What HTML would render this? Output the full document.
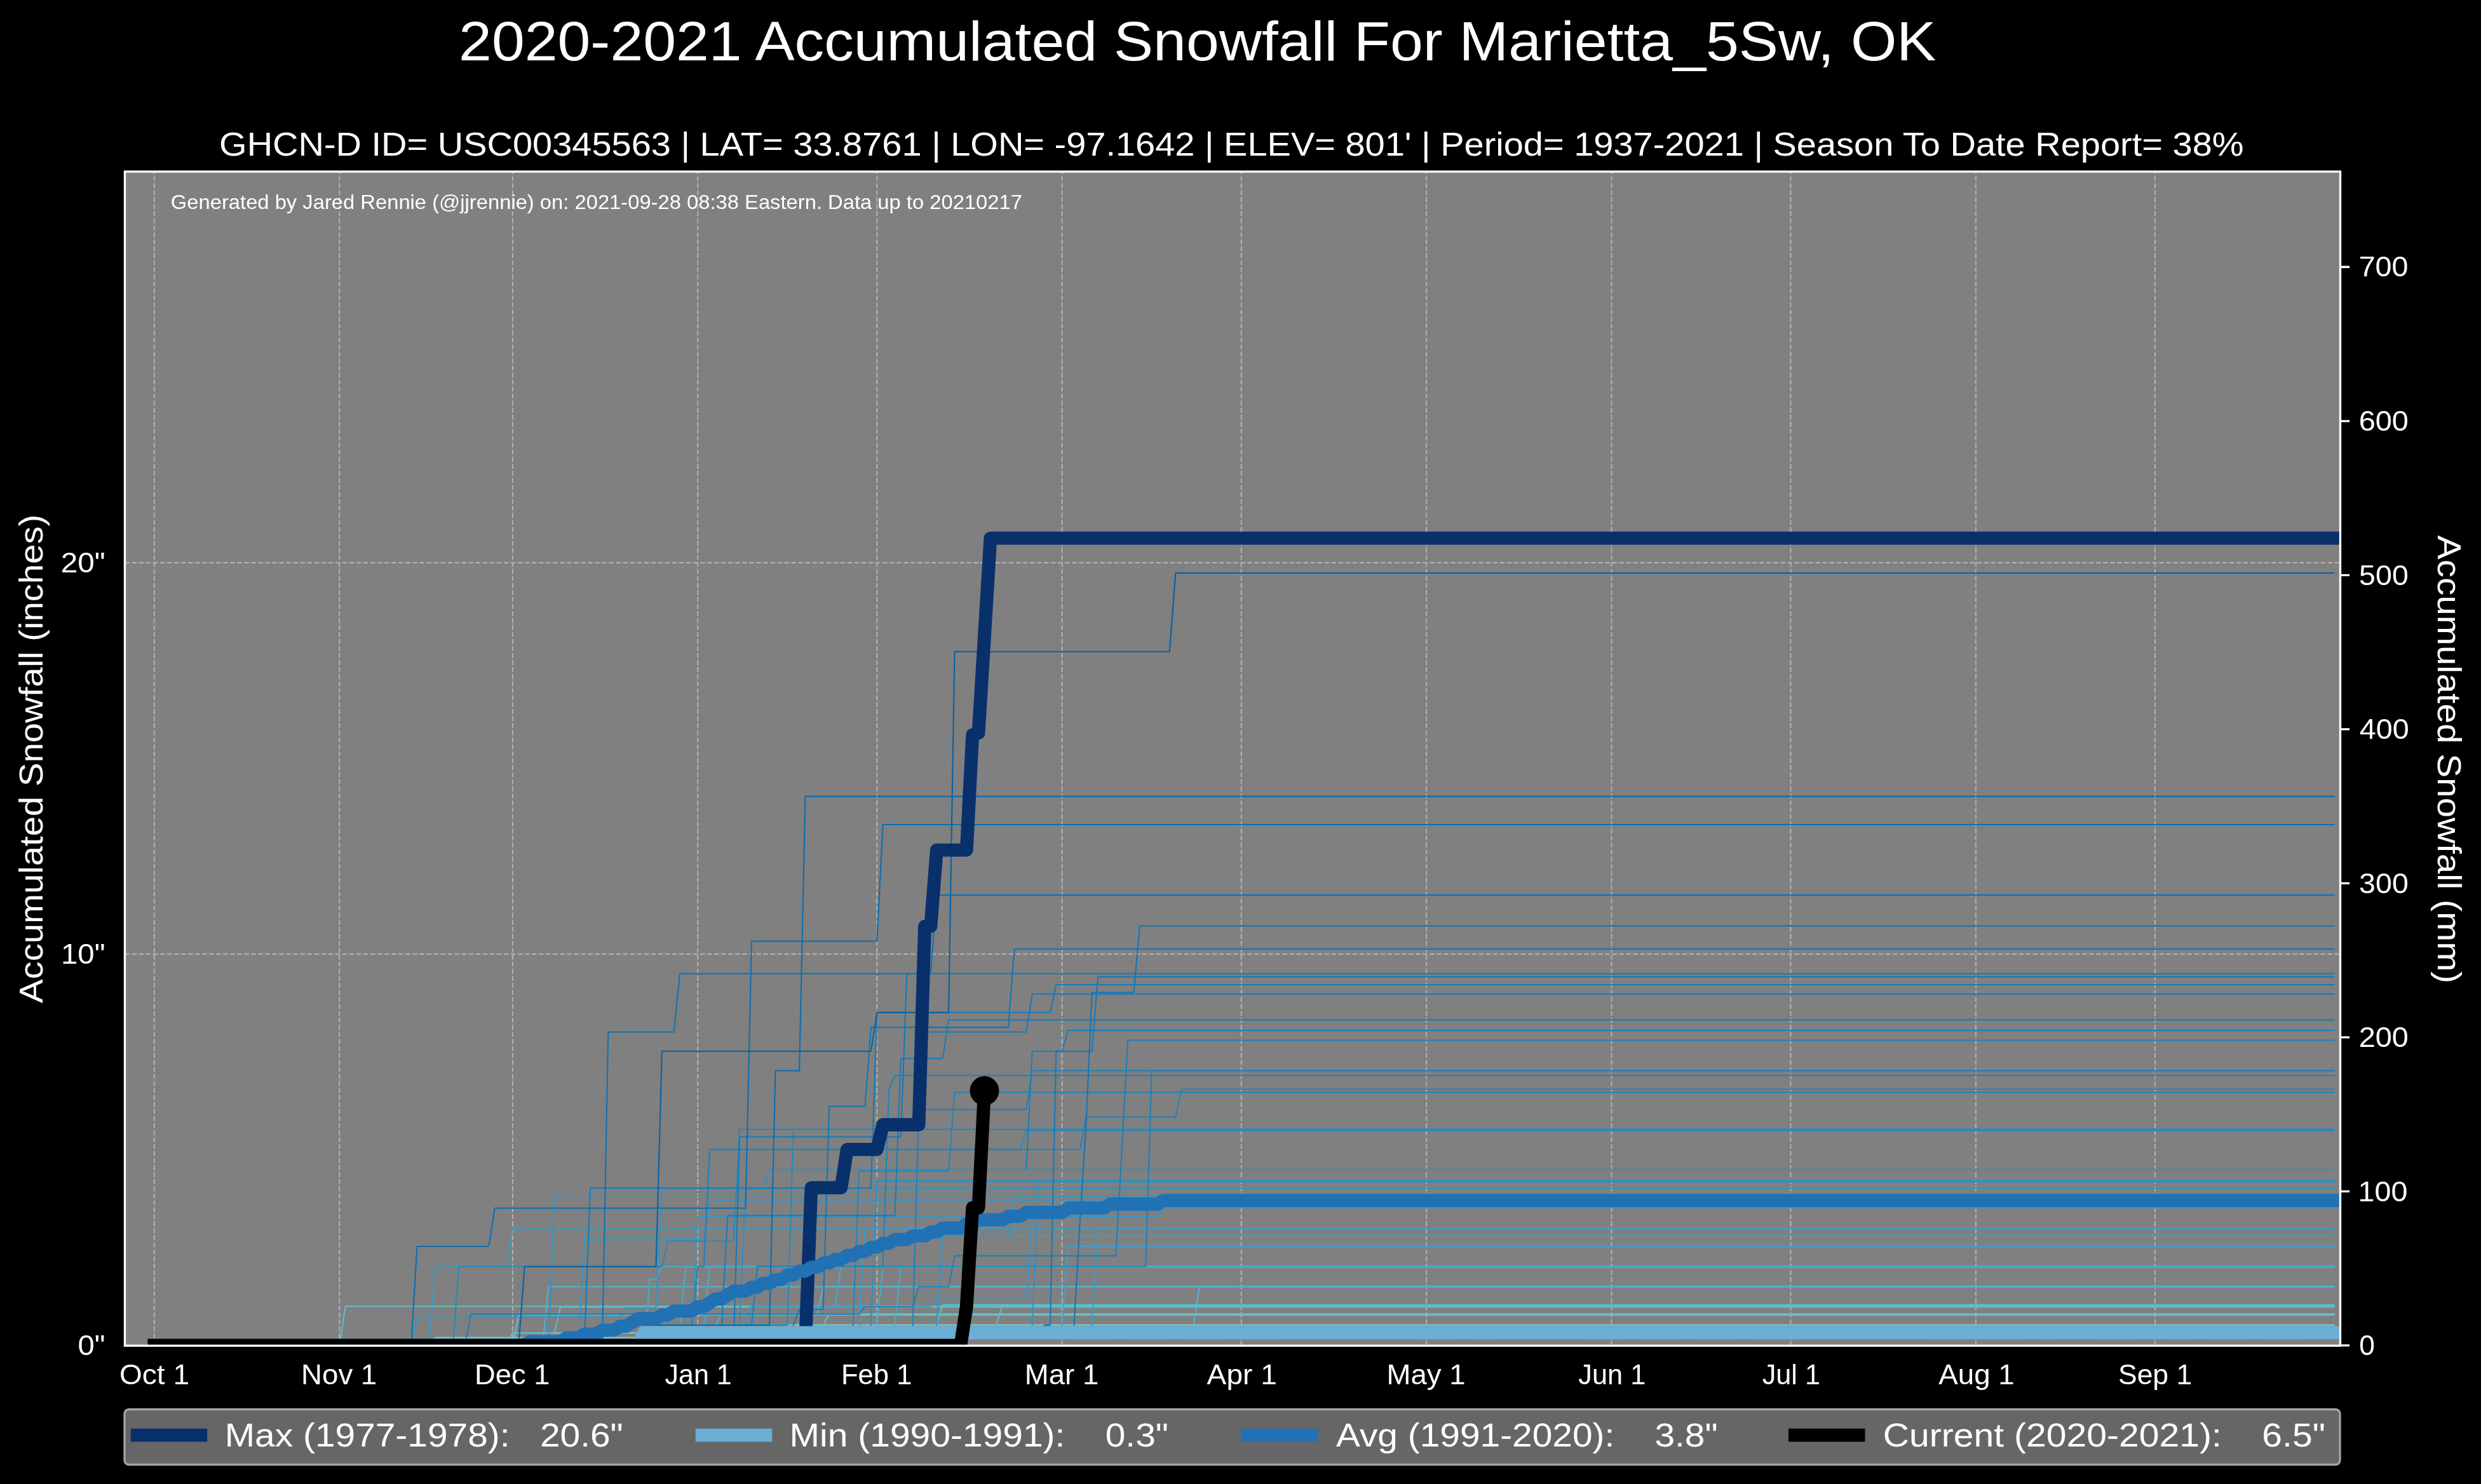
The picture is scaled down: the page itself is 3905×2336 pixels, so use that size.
<!DOCTYPE html>
<html><head><meta charset="utf-8"><style>html,body{margin:0;padding:0;background:#000;}svg{display:block;will-change:transform;}text{white-space:pre;}</style></head><body>
<svg width="3905" height="2336" viewBox="0 0 3905 2336" font-family="Liberation Sans, sans-serif">
<rect width="3905" height="2336" fill="#000"/>
<defs><clipPath id="ax"><rect x="196.5" y="270.1" width="3487.0" height="1848.2000000000003"/></clipPath></defs>
<rect x="196.5" y="270.1" width="3487.0" height="1848.2000000000003" fill="#808080"/>
<path d="M242.9 2117.91 V270.1 M534.3 2117.91 V270.1 M806.9 2117.91 V270.1 M1098.3 2117.91 V270.1 M1380.3 2117.91 V270.1 M1671.7 2117.91 V270.1 M1953.7 2117.91 V270.1 M2245.1 2117.91 V270.1 M2536.5 2117.91 V270.1 M2818.5 2117.91 V270.1 M3109.9 2117.91 V270.1 M3391.9 2117.91 V270.1 M196.5 2117.91 H3683.5 M196.5 1501.91 H3683.5 M196.5 885.91 H3683.5" stroke="#b0b0b0" stroke-width="2.08" stroke-dasharray="7.708 3.333" fill="none"/>
<g clip-path="url(#ax)">
<path d="M675.3 2117.91 L684.7 2105.59 L3673.9 2105.59" stroke="#7accc4" stroke-width="2.08" fill="none" stroke-linejoin="round" stroke-linecap="square"/>
<path d="M797.5 2117.91 L806.9 2098.2 L3673.9 2098.2" stroke="#7accc4" stroke-width="2.08" fill="none" stroke-linejoin="round" stroke-linecap="square"/>
<path d="M1004.3 2117.91 L1013.7 2085.88 L1878.5 2085.88 L1887.9 2024.89 L3673.9 2024.89" stroke="#4fb3d3" stroke-width="2.08" fill="none" stroke-linejoin="round" stroke-linecap="square"/>
<path d="M1004.3 2117.91 L1013.7 2085.88 L3673.9 2085.88" stroke="#77cac5" stroke-width="2.08" fill="none" stroke-linejoin="round" stroke-linecap="square"/>
<path d="M806.9 2117.91 L816.3 2069.86 L3673.9 2069.86" stroke="#68c1ca" stroke-width="2.08" fill="none" stroke-linejoin="round" stroke-linecap="square"/>
<path d="M1295.7 2085.88 L1305.1 2068.63 L3673.9 2068.63" stroke="#68c1ca" stroke-width="2.08" fill="none" stroke-linejoin="round" stroke-linecap="square"/>
<path d="M797.5 2117.91 L806.9 2098.2 L872.7 2098.2 L882.1 2057.54 L3673.9 2057.54" stroke="#5fbdcd" stroke-width="2.08" fill="none" stroke-linejoin="round" stroke-linecap="square"/>
<path d="M1173.5 2085.88 L1182.9 2056.93 L3673.9 2056.93" stroke="#5fbdcd" stroke-width="2.08" fill="none" stroke-linejoin="round" stroke-linecap="square"/>
<path d="M534.3 2117.91 L543.7 2056.31 L3673.9 2056.31" stroke="#5fbdcd" stroke-width="2.08" fill="none" stroke-linejoin="round" stroke-linecap="square"/>
<path d="M1568.3 2085.88 L1577.7 2055.08 L3673.9 2055.08" stroke="#5ebcce" stroke-width="2.08" fill="none" stroke-linejoin="round" stroke-linecap="square"/>
<path d="M1474.3 2085.88 L1483.7 2053.85 L3673.9 2053.85" stroke="#5dbbce" stroke-width="2.08" fill="none" stroke-linejoin="round" stroke-linecap="square"/>
<path d="M853.9 2117.91 L863.3 2025.51 L3673.9 2025.51" stroke="#4fb3d3" stroke-width="2.08" fill="none" stroke-linejoin="round" stroke-linecap="square"/>
<path d="M1117.1 2085.88 L1126.5 2085.88 L1135.9 2068.63 L1286.3 2068.63 L1295.7 2025.51 L3673.9 2025.51" stroke="#4fb3d3" stroke-width="2.08" fill="none" stroke-linejoin="round" stroke-linecap="square"/>
<path d="M1060.7 2085.88 L1070.1 2085.88 L1079.5 1994.71 L3673.9 1994.71" stroke="#47abcf" stroke-width="2.08" fill="none" stroke-linejoin="round" stroke-linecap="square"/>
<path d="M1408.5 2085.88 L1417.9 1994.71 L3673.9 1994.71" stroke="#47abcf" stroke-width="2.08" fill="none" stroke-linejoin="round" stroke-linecap="square"/>
<path d="M1013.7 2117.91 L1023.1 2013.19 L1032.5 2013.19 L1041.9 1993.79 L3673.9 1993.79" stroke="#46aace" stroke-width="2.08" fill="none" stroke-linejoin="round" stroke-linecap="square"/>
<path d="M1107.7 2085.88 L1117.1 1993.48 L3673.9 1993.48" stroke="#46aace" stroke-width="2.08" fill="none" stroke-linejoin="round" stroke-linecap="square"/>
<path d="M1173.5 2085.88 L1182.9 2056.93 L1314.5 2056.93 L1323.9 1993.48 L3673.9 1993.48" stroke="#46aace" stroke-width="2.08" fill="none" stroke-linejoin="round" stroke-linecap="square"/>
<path d="M1380.3 2085.88 L1389.7 1993.48 L3673.9 1993.48" stroke="#46aace" stroke-width="2.08" fill="none" stroke-linejoin="round" stroke-linecap="square"/>
<path d="M1671.7 2085.88 L1681.1 1962.06 L3673.9 1962.06" stroke="#3fa2ca" stroke-width="2.08" fill="none" stroke-linejoin="round" stroke-linecap="square"/>
<path d="M1474.3 2085.88 L1483.7 1944.81 L3673.9 1944.81" stroke="#3c9fc8" stroke-width="2.08" fill="none" stroke-linejoin="round" stroke-linecap="square"/>
<path d="M675.3 2117.91 L684.7 1993.79 L797.5 1993.79 L806.9 1933.11 L3673.9 1933.11" stroke="#3b9dc7" stroke-width="2.08" fill="none" stroke-linejoin="round" stroke-linecap="square"/>
<path d="M1352.1 2085.88 L1361.5 1933.11 L3673.9 1933.11" stroke="#3b9dc7" stroke-width="2.08" fill="none" stroke-linejoin="round" stroke-linecap="square"/>
<path d="M1718.7 2085.88 L1728.1 1933.11 L3673.9 1933.11" stroke="#3b9dc7" stroke-width="2.08" fill="none" stroke-linejoin="round" stroke-linecap="square"/>
<path d="M1173.5 2085.88 L1182.9 2056.93 L1464.9 2056.93 L1474.3 2045.22 L1615.3 2045.22 L1624.7 1914.63 L1822.1 1914.63 L1831.5 1901.08 L3673.9 1901.08" stroke="#3597c4" stroke-width="2.08" fill="none" stroke-linejoin="round" stroke-linecap="square"/>
<path d="M1088.9 2085.88 L1098.3 1914.63 L1822.1 1914.63 L1831.5 1901.08 L3673.9 1901.08" stroke="#3597c4" stroke-width="2.08" fill="none" stroke-linejoin="round" stroke-linecap="square"/>
<path d="M910.3 2117.91 L919.7 1950.36 L1107.7 1950.36 L1117.1 1890.61 L3673.9 1890.61" stroke="#3496c3" stroke-width="2.08" fill="none" stroke-linejoin="round" stroke-linecap="square"/>
<path d="M1474.3 2085.88 L1483.7 1944.81 L1587.1 1944.81 L1596.5 1884.45 L3673.9 1884.45" stroke="#3395c3" stroke-width="2.08" fill="none" stroke-linejoin="round" stroke-linecap="square"/>
<path d="M863.3 2117.91 L872.7 1881.98 L3673.9 1881.98" stroke="#3395c3" stroke-width="2.08" fill="none" stroke-linejoin="round" stroke-linecap="square"/>
<path d="M919.7 2117.91 L929.1 1870.28 L3673.9 1870.28" stroke="#3294c2" stroke-width="2.08" fill="none" stroke-linejoin="round" stroke-linecap="square"/>
<path d="M647.1 2117.91 L656.5 2073.56 L976.1 2073.56 L985.5 2058.77 L1032.5 2058.77 L1041.9 1870.28 L3673.9 1870.28" stroke="#3294c2" stroke-width="2.08" fill="none" stroke-linejoin="round" stroke-linecap="square"/>
<path d="M1624.7 2085.88 L1634.1 1860.42 L3673.9 1860.42" stroke="#3192c1" stroke-width="2.08" fill="none" stroke-linejoin="round" stroke-linecap="square"/>
<path d="M1370.9 2085.88 L1380.3 1859.81 L3673.9 1859.81" stroke="#3091c1" stroke-width="2.08" fill="none" stroke-linejoin="round" stroke-linecap="square"/>
<path d="M1370.9 2085.88 L1380.3 1857.96 L3673.9 1857.96" stroke="#3091c1" stroke-width="2.08" fill="none" stroke-linejoin="round" stroke-linecap="square"/>
<path d="M1164.1 2085.88 L1173.5 1871.51 L1201.7 1871.51 L1211.1 1840.71 L3673.9 1840.71" stroke="#2f90c0" stroke-width="2.08" fill="none" stroke-linejoin="round" stroke-linecap="square"/>
<path d="M1004.3 2117.91 L1013.7 2085.88 L1088.9 2085.88 L1098.3 1993.79 L1107.7 1993.79 L1117.1 1809.29 L1605.9 1809.29 L1615.3 1779.73 L3673.9 1779.73" stroke="#2889bc" stroke-width="2.08" fill="none" stroke-linejoin="round" stroke-linecap="square"/>
<path d="M712.9 2117.91 L722.3 1993.79 L1041.9 1993.79 L1051.3 1953.44 L1154.7 1953.44 L1164.1 1777.88 L3673.9 1777.88" stroke="#2889bc" stroke-width="2.08" fill="none" stroke-linejoin="round" stroke-linecap="square"/>
<path d="M1004.3 2117.91 L1013.7 2085.88 L1239.3 2085.88 L1248.7 1777.88 L3673.9 1777.88" stroke="#2889bc" stroke-width="2.08" fill="none" stroke-linejoin="round" stroke-linecap="square"/>
<path d="M1342.7 2085.88 L1352.1 1843.17 L1493.1 1843.17 L1502.5 1719.36 L3673.9 1719.36" stroke="#2484ba" stroke-width="2.08" fill="none" stroke-linejoin="round" stroke-linecap="square"/>
<path d="M1004.3 2117.91 L1013.7 2085.88 L1088.9 2085.88 L1098.3 1993.79 L1107.7 1993.79 L1117.1 1809.29 L1699.9 1809.29 L1709.3 1758.17 L1850.3 1758.17 L1859.7 1714.43 L3673.9 1714.43" stroke="#2283ba" stroke-width="2.08" fill="none" stroke-linejoin="round" stroke-linecap="square"/>
<path d="M1182.9 2085.88 L1192.3 1993.48 L1389.7 1993.48 L1399.1 1716.89 L1408.5 1692.87 L3673.9 1692.87" stroke="#2182b9" stroke-width="2.08" fill="none" stroke-linejoin="round" stroke-linecap="square"/>
<path d="M1436.7 2085.88 L1446.1 1746.46 L1615.3 1746.46 L1624.7 1685.48 L3673.9 1685.48" stroke="#2081b8" stroke-width="2.08" fill="none" stroke-linejoin="round" stroke-linecap="square"/>
<path d="M1173.5 2085.88 L1182.9 2085.88 L1192.3 1993.48 L1803.3 1993.48 L1812.7 1685.48 L3673.9 1685.48" stroke="#2081b8" stroke-width="2.08" fill="none" stroke-linejoin="round" stroke-linecap="square"/>
<path d="M731.7 2117.91 L741.1 2068.63 L1352.1 2068.63 L1361.5 2056.93 L1436.7 2056.93 L1446.1 2025.51 L1493.1 2025.51 L1502.5 1976.85 L1756.3 1976.85 L1765.7 1809.91 L1775.1 1637.43 L3673.9 1637.43" stroke="#1e7fb7" stroke-width="2.08" fill="none" stroke-linejoin="round" stroke-linecap="square"/>
<path d="M1615.3 1840.71 L1624.7 1654.68 L1671.7 1654.68 L1681.1 1622.03 L3673.9 1622.03" stroke="#1d7eb7" stroke-width="2.08" fill="none" stroke-linejoin="round" stroke-linecap="square"/>
<path d="M1135.9 2085.88 L1145.3 1913.4 L1408.5 1913.4 L1417.9 1666.38 L1483.7 1666.38 L1493.1 1605.4 L3673.9 1605.4" stroke="#1c7cb6" stroke-width="2.08" fill="none" stroke-linejoin="round" stroke-linecap="square"/>
<path d="M1446.1 1777.88 L1455.5 1624.49 L1615.3 1624.49 L1624.7 1564.74 L3673.9 1564.74" stroke="#1a7ab5" stroke-width="2.08" fill="none" stroke-linejoin="round" stroke-linecap="square"/>
<path d="M919.7 2117.91 L929.1 1870.28 L1370.9 1870.28 L1380.3 1593.69 L1652.9 1593.69 L1662.3 1549.96 L3673.9 1549.96" stroke="#1979b5" stroke-width="2.08" fill="none" stroke-linejoin="round" stroke-linecap="square"/>
<path d="M1643.5 2085.88 L1652.9 2085.88 L1662.3 1654.68 L1718.7 1654.68 L1728.1 1537.64 L3673.9 1537.64" stroke="#1878b4" stroke-width="2.08" fill="none" stroke-linejoin="round" stroke-linecap="square"/>
<path d="M1154.7 2117.91 L1164.1 1789.58 L1417.9 1789.58 L1427.3 1532.71 L3673.9 1532.71" stroke="#1878b4" stroke-width="2.08" fill="none" stroke-linejoin="round" stroke-linecap="square"/>
<path d="M1248.7 2085.88 L1258.1 2061.24 L1295.7 2061.24 L1305.1 1741.53 L1361.5 1741.53 L1370.9 1617.1 L1587.1 1617.1 L1596.5 1493.9 L3673.9 1493.9" stroke="#1576b3" stroke-width="2.08" fill="none" stroke-linejoin="round" stroke-linecap="square"/>
<path d="M1690.5 2085.88 L1699.9 1920.79 L1709.3 1772.95 L1718.7 1562.28 L1784.5 1562.28 L1793.9 1457.56 L3673.9 1457.56" stroke="#1475b2" stroke-width="2.08" fill="none" stroke-linejoin="round" stroke-linecap="square"/>
<path d="M947.9 2117.91 L957.3 1624.49 L1060.7 1624.49 L1070.1 1532.71 L1464.9 1532.71 L1474.3 1408.89 L3673.9 1408.89" stroke="#1272b1" stroke-width="2.08" fill="none" stroke-linejoin="round" stroke-linecap="square"/>
<path d="M647.1 2117.91 L656.5 1962.06 L769.3 1962.06 L778.7 1901.69 L1173.5 1901.69 L1182.9 1481.58 L1380.3 1481.58 L1389.7 1298.01 L3673.9 1298.01" stroke="#0e6eaf" stroke-width="2.08" fill="none" stroke-linejoin="round" stroke-linecap="square"/>
<path d="M1004.3 2117.91 L1013.7 2085.88 L1211.1 2085.88 L1220.5 1685.48 L1258.1 1685.48 L1267.5 1253.66 L3673.9 1253.66" stroke="#0d6dae" stroke-width="2.08" fill="none" stroke-linejoin="round" stroke-linecap="square"/>
<path d="M816.3 2117.91 L825.7 1993.79 L1032.5 1993.79 L1041.9 1654.68 L1370.9 1654.68 L1380.3 1593.69 L1493.1 1593.69 L1502.5 1025.74 L1840.9 1025.74 L1850.3 901.93 L3673.9 901.93" stroke="#0861a4" stroke-width="2.08" fill="none" stroke-linejoin="round" stroke-linecap="square"/>
<path d="M242.9 2117.91 L1267.5 2117.91 L1276.9 1869.66 L1323.9 1869.66 L1333.3 1809.29 L1380.3 1809.29 L1389.7 1770.49 L1446.1 1770.49 L1455.5 1458.17 L1464.9 1458.17 L1474.3 1338.05 L1521.3 1338.05 L1530.7 1156.95 L1540.1 1153.87 L1549.5 1001.1 L1558.9 847.1 L3683.3 847.1" stroke="#08306b" stroke-width="20.83" fill="none" stroke-linejoin="round" stroke-linecap="square"/>
<path d="M242.9 2117.91 L1004.3 2117.91 L1013.7 2097.89 L3683.3 2097.89" stroke="#6baed6" stroke-width="20.83" fill="none" stroke-linejoin="round" stroke-linecap="square"/>
<path d="M242.9 2117.91 L816.3 2117.91 L825.7 2116.06 L835.1 2111.87 L882.1 2111.87 L891.5 2105.9 L910.3 2105.9 L919.7 2099.8 L938.5 2099.8 L947.9 2093.82 L966.7 2093.82 L976.1 2087.73 L985.5 2087.73 L994.9 2081.57 L1004.3 2075.71 L1032.5 2075.71 L1041.9 2069.86 L1051.3 2069.86 L1060.7 2063.7 L1088.9 2063.7 L1098.3 2056.56 L1107.7 2056.56 L1117.1 2050.77 L1126.5 2044.61 L1135.9 2044.61 L1145.3 2038.45 L1154.7 2032.29 L1173.5 2032.29 L1182.9 2026.13 L1192.3 2026.13 L1201.7 2019.97 L1211.1 2019.97 L1220.5 2014.42 L1229.9 2014.42 L1239.3 2007.03 L1248.7 2007.03 L1258.1 2000.87 L1267.5 2000.87 L1276.9 1994.71 L1286.3 1994.71 L1295.7 1988.18 L1305.1 1988.18 L1314.5 1982.39 L1323.9 1982.39 L1333.3 1976.23 L1342.7 1976.23 L1352.1 1970.07 L1361.5 1970.07 L1370.9 1963.29 L1380.3 1963.29 L1389.7 1957.13 L1399.1 1957.13 L1408.5 1951.28 L1427.3 1951.28 L1436.7 1945.43 L1455.5 1945.43 L1464.9 1939.27 L1474.3 1939.27 L1483.7 1933.11 L1511.9 1933.11 L1521.3 1926.33 L1530.7 1926.33 L1540.1 1920.17 L1577.7 1920.17 L1587.1 1914.63 L1605.9 1914.63 L1615.3 1908.47 L1671.7 1908.47 L1681.1 1901.69 L1737.5 1901.69 L1746.9 1895.53 L1822.1 1895.53 L1831.5 1889.68 L3683.3 1889.68" stroke="#2171b5" stroke-width="20.83" fill="none" stroke-linejoin="round" stroke-linecap="square"/>
<path d="M242.9 2117.91 L1511.9 2117.91 L1521.3 2056.31 L1530.7 1901.08 L1540.1 1901.08 L1549.5 1716.89" stroke="#000000" stroke-width="20.83" fill="none" stroke-linejoin="round" stroke-linecap="square"/>
<circle cx="1549.5" cy="1716.89" r="23" fill="#000"/>
</g>
<text x="268.86" y="329.1" font-size="30.58" textLength="1340.06" lengthAdjust="spacingAndGlyphs" fill="#fff">Generated by Jared Rennie (@jjrennie) on: 2021-09-28 08:38 Eastern. Data up to 20210217</text>
<rect x="196.5" y="270.1" width="3487.0" height="1848.2000000000003" fill="none" stroke="#fff" stroke-width="3.33"/>
<path d="M3683.5 2117.91 h14.6 M3683.5 1875.39 h14.6 M3683.5 1632.87 h14.6 M3683.5 1390.35 h14.6 M3683.5 1147.83 h14.6 M3683.5 905.31 h14.6 M3683.5 662.79 h14.6 M3683.5 420.27 h14.6" stroke="#fff" stroke-width="3.33" fill="none"/>
<text x="3713.23" y="2133.11" font-size="44.05" textLength="24.64" lengthAdjust="spacingAndGlyphs" fill="#fff">0</text>
<text x="3711.5" y="1890.59" font-size="44.05" textLength="77.83" lengthAdjust="spacingAndGlyphs" fill="#fff">100</text>
<text x="3712.66" y="1648.07" font-size="44.05" textLength="78.14" lengthAdjust="spacingAndGlyphs" fill="#fff">200</text>
<text x="3713.14" y="1405.55" font-size="44.05" textLength="77.64" lengthAdjust="spacingAndGlyphs" fill="#fff">300</text>
<text x="3713.83" y="1163.03" font-size="44.05" textLength="78" lengthAdjust="spacingAndGlyphs" fill="#fff">400</text>
<text x="3713.14" y="920.51" font-size="44.05" textLength="77.64" lengthAdjust="spacingAndGlyphs" fill="#fff">500</text>
<text x="3712.65" y="677.99" font-size="44.05" textLength="78.36" lengthAdjust="spacingAndGlyphs" fill="#fff">600</text>
<text x="3712.67" y="435.47" font-size="44.05" textLength="77.91" lengthAdjust="spacingAndGlyphs" fill="#fff">700</text>
<text x="122.45" y="2133.11" font-size="44.05" textLength="43.03" lengthAdjust="spacingAndGlyphs" fill="#fff">0&quot;</text>
<text x="95.99" y="1517.11" font-size="44.05" textLength="69.55" lengthAdjust="spacingAndGlyphs" fill="#fff">10&quot;</text>
<text x="95.71" y="901.11" font-size="44.05" textLength="69.85" lengthAdjust="spacingAndGlyphs" fill="#fff">20&quot;</text>
<text x="188.01" y="2178.5" font-size="44.05" textLength="109.99" lengthAdjust="spacingAndGlyphs" fill="#fff">Oct 1</text>
<text x="474.08" y="2178.5" font-size="44.09" textLength="119.17" lengthAdjust="spacingAndGlyphs" fill="#fff">Nov 1</text>
<text x="747.02" y="2178.5" font-size="44.09" textLength="118.51" lengthAdjust="spacingAndGlyphs" fill="#fff">Dec 1</text>
<text x="1046.51" y="2178.5" font-size="44.09" textLength="105.15" lengthAdjust="spacingAndGlyphs" fill="#fff">Jan 1</text>
<text x="1324" y="2178.5" font-size="43.68" textLength="111.39" lengthAdjust="spacingAndGlyphs" fill="#fff">Feb 1</text>
<text x="1612.84" y="2178.5" font-size="44.09" textLength="116.4" lengthAdjust="spacingAndGlyphs" fill="#fff">Mar 1</text>
<text x="1899.61" y="2178.5" font-size="44.09" textLength="110.26" lengthAdjust="spacingAndGlyphs" fill="#fff">Apr 1</text>
<text x="2182.49" y="2178.5" font-size="44.09" textLength="123.99" lengthAdjust="spacingAndGlyphs" fill="#fff">May 1</text>
<text x="2484.28" y="2178.5" font-size="44.09" textLength="106.01" lengthAdjust="spacingAndGlyphs" fill="#fff">Jun 1</text>
<text x="2773.68" y="2178.5" font-size="43.68" textLength="91.25" lengthAdjust="spacingAndGlyphs" fill="#fff">Jul 1</text>
<text x="3051.23" y="2178.5" font-size="44.09" textLength="119.55" lengthAdjust="spacingAndGlyphs" fill="#fff">Aug 1</text>
<text x="3333.96" y="2178.5" font-size="44.05" textLength="116.26" lengthAdjust="spacingAndGlyphs" fill="#fff">Sep 1</text>
<text x="722.1" y="95.1" font-size="87.35" textLength="2325.43" lengthAdjust="spacingAndGlyphs" fill="#fff">2020-2021 Accumulated Snowfall For Marietta_5Sw, OK</text>
<text x="345.13" y="245.1" font-size="52.41" textLength="3186.41" lengthAdjust="spacingAndGlyphs" fill="#fff">GHCN-D ID= USC00345563 | LAT= 33.8761 | LON= -97.1642 | ELEV= 801' | Period= 1937-2021 | Season To Date Report= 38%</text>
<text x="-316.03" y="1196" font-size="52.41" textLength="769.34" lengthAdjust="spacingAndGlyphs" fill="#fff" transform="rotate(-90 67 1196)">Accumulated Snowfall (inches)</text>
<text x="3485.57" y="1193.9" font-size="52.41" textLength="705.39" lengthAdjust="spacingAndGlyphs" fill="#fff" transform="rotate(90 3836.6 1193.9)">Accumulated Snowfall (mm)</text>
<rect x="196" y="2218.5" width="3487" height="87" rx="7" ry="7" fill="#666666" stroke="#a3a3a3" stroke-width="3.33"/>
<path d="M205.7 2259.2 h120.5" stroke="#08306b" stroke-width="20.83" fill="none"/>
<text x="353.75" y="2277.1" font-size="52.41" textLength="627" lengthAdjust="spacingAndGlyphs" fill="#fff" xml:space="preserve">Max (1977-1978):   20.6&quot;</text>
<path d="M1094.8 2259.2 h120.5" stroke="#6baed6" stroke-width="20.83" fill="none"/>
<text x="1242.64" y="2277.1" font-size="52.41" textLength="596.48" lengthAdjust="spacingAndGlyphs" fill="#fff" xml:space="preserve">Min (1990-1991):    0.3&quot;</text>
<path d="M1953.7 2259.2 h120.5" stroke="#2171b5" stroke-width="20.83" fill="none"/>
<text x="2103.02" y="2277.1" font-size="52.41" textLength="600.63" lengthAdjust="spacingAndGlyphs" fill="#fff" xml:space="preserve">Avg (1991-2020):    3.8&quot;</text>
<path d="M2815 2259.2 h120.5" stroke="#000000" stroke-width="20.83" fill="none"/>
<text x="2963.75" y="2277.1" font-size="52.41" textLength="696.18" lengthAdjust="spacingAndGlyphs" fill="#fff" xml:space="preserve">Current (2020-2021):    6.5&quot;</text>
</svg>
</body></html>
